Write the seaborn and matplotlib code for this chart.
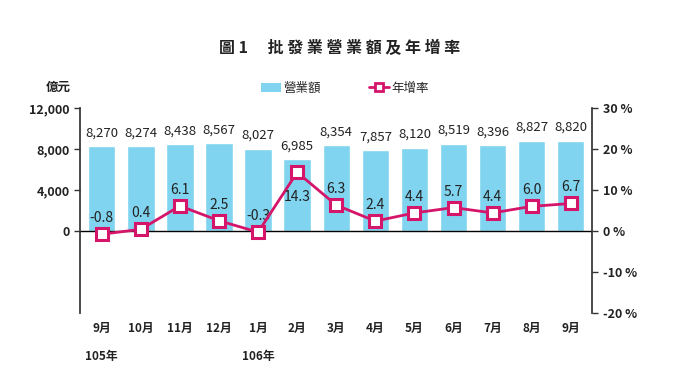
import numpy as np
import pandas as pd
import matplotlib
matplotlib.use("Agg")
import matplotlib.pyplot as plt
import seaborn as sns
from matplotlib.patches import Patch
from matplotlib.lines import Line2D

# 資料
months = ["9月", "10月", "11月", "12月", "1月", "2月", "3月",
          "4月", "5月", "6月", "7月", "8月", "9月"]
sales = [8270, 8274, 8438, 8567, 8027, 6985, 8354,
         7857, 8120, 8519, 8396, 8827, 8820]
growth = [-0.8, 0.4, 6.1, 2.5, -0.3, 14.3, 6.3,
          2.4, 4.4, 5.7, 4.4, 6.0, 6.7]
year_labels = {0: "105年", 4: "106年"}

BAR_COLOR = "#80d4ef"
LINE_COLOR = "#d4156a"
TEXT_COLOR = "#222222"

sns.set_theme(style="white")
plt.rcParams["font.family"] = ["Noto Sans CJK TC", "DejaVu Sans"]
plt.rcParams["axes.unicode_minus"] = False

df = pd.DataFrame({"pos": np.arange(len(months)), "sales": sales, "growth": growth})

fig = plt.figure(figsize=(6.8, 3.83), dpi=100)
ax = fig.add_axes([0.118, 0.183, 0.753, 0.535])

sns.barplot(data=df, x="pos", y="sales", color=BAR_COLOR, width=0.7,
            saturation=1, ax=ax)
ax.set_ylim(-8000, 12000)
ax.set_xlim(-0.55, len(months) - 0.45)
ax.set_yticks([0, 4000, 8000, 12000])
ax.set_yticklabels([f"{v:,}" for v in [0, 4000, 8000, 12000]],
                   fontsize=9, fontweight="bold", color=TEXT_COLOR)
ax.axhline(0, color="black", lw=1, zorder=1)
ax.set_xlabel("")
ax.set_ylabel("")
ax.set_xticks([])
for s in ["top", "right", "bottom"]:
    ax.spines[s].set_visible(False)
ax.spines["left"].set_color("#333333")
ax.tick_params(axis="y", direction="out", length=4, width=1, colors="#333333",
               labelcolor=TEXT_COLOR, left=True)

# 營業額標籤
for i, v in enumerate(sales):
    ax.text(i, v + 650, f"{v:,}", ha="center", va="bottom", fontsize=9.5,
            color=TEXT_COLOR)

# 年增率
ax2 = ax.twinx()
sns.lineplot(data=df, x="pos", y="growth", color=LINE_COLOR, lw=2, marker="s",
             markersize=8, markerfacecolor="white", markeredgecolor=LINE_COLOR,
             markeredgewidth=2.2, ax=ax2, zorder=5)
ax2.set_ylim(-20, 30)
ax2.set_yticks([-20, -10, 0, 10, 20, 30])
ax2.set_yticklabels([f"{v} %" for v in [-20, -10, 0, 10, 20, 30]],
                    fontsize=9, fontweight="bold", color=TEXT_COLOR)
ax2.set_xlabel("")
ax2.set_ylabel("")
for s in ["top", "left", "bottom"]:
    ax2.spines[s].set_visible(False)
ax2.spines["right"].set_color("#333333")
ax2.tick_params(axis="y", direction="out", length=4, width=1, colors="#333333",
                labelcolor=TEXT_COLOR, right=True)

for i, v in enumerate(growth):
    if i == 5:
        # 2月的標籤放在點下方
        ax2.text(i, v - 4.2, f"{v}", ha="center", va="top", fontsize=10,
                 color=TEXT_COLOR, zorder=6)
    else:
        ax2.text(i, v + 2.2, f"{v}", ha="center", va="bottom", fontsize=10,
                 color=TEXT_COLOR)

# X 軸標籤
for i, m in enumerate(months):
    ax.text(i, -9500, m, ha="center", va="center", fontsize=8.5,
            fontweight="bold", color=TEXT_COLOR)
for i, y in year_labels.items():
    ax.text(i, -12300, y, ha="center", va="center", fontsize=8.5,
            fontweight="bold", color=TEXT_COLOR)

# 標題、單位與圖例
fig.text(0.5, 0.875, "圖 1　 批 發 業 營 業 額 及 年 增 率", ha="center",
         va="center", fontsize=11.5, fontweight="bold", color=TEXT_COLOR)
fig.text(0.085, 0.773, "億元", ha="center", va="center", fontsize=9,
         fontweight="bold", color=TEXT_COLOR)

handles = [Patch(facecolor=BAR_COLOR, edgecolor="none", label="營業額"),
           Line2D([0], [0], color=LINE_COLOR, lw=2, marker="s", markersize=6,
                  markerfacecolor="white", markeredgecolor=LINE_COLOR,
                  markeredgewidth=2, label="年增率")]
fig.legend(handles=handles, loc="center", bbox_to_anchor=(0.507, 0.77), ncol=2,
           frameon=False, fontsize=9, handlelength=1.6, handletextpad=0.2,
           columnspacing=3.8)

fig.savefig("out.png", dpi=100)
